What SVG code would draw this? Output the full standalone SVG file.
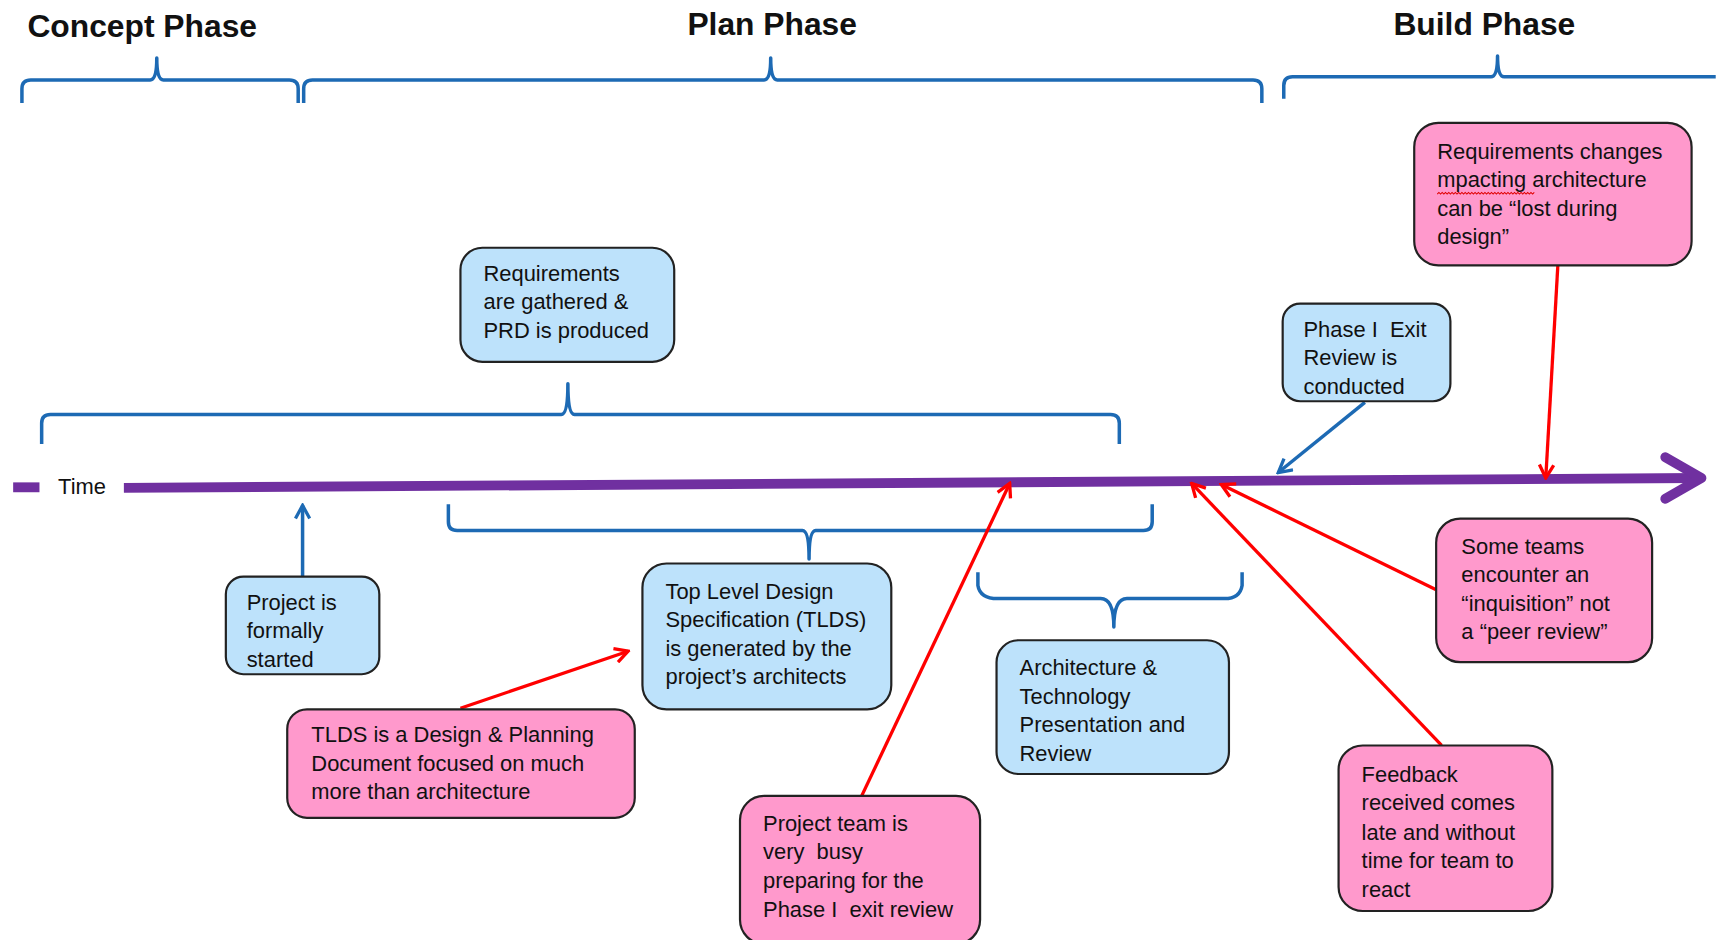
<svg xmlns="http://www.w3.org/2000/svg" width="1719" height="940" viewBox="0 0 1719 940">
<style>
.title{font-family:"Liberation Sans",Arial,sans-serif;font-weight:bold;font-size:29px;fill:#111}
.t{font-family:"Liberation Sans",Arial,sans-serif;font-size:20px;fill:#111;white-space:pre}
.blue{fill:#BDE2FB;stroke:#222;stroke-width:2}
.pink{fill:#FF99CC;stroke:#222;stroke-width:2}
.brace{fill:none;stroke:#1D6AB4;stroke-width:3.2;stroke-linejoin:round}
.bl{fill:none;stroke:#1D6AB4;stroke-width:3.2}
.rd{fill:none;stroke:#FF0000;stroke-width:3}
</style>
<defs>
<marker id="ab" viewBox="0 0 16 16" refX="14" refY="8" markerWidth="16" markerHeight="16" orient="auto" markerUnits="userSpaceOnUse"><path d="M2,1.5 L14,8 L2,14.5" fill="none" stroke="#1D6AB4" stroke-width="3"/></marker>
<marker id="ar" viewBox="0 0 16 16" refX="14" refY="8" markerWidth="16" markerHeight="16" orient="auto" markerUnits="userSpaceOnUse"><path d="M2,1.5 L14,8 L2,14.5" fill="none" stroke="#FF0000" stroke-width="3"/></marker>
</defs>
<rect width="1719" height="940" fill="#fff"/>
<g transform="scale(1.0963)">
<g id="titles">
<text class="title" x="25" y="34">Concept Phase</text>
<text class="title" x="627" y="32">Plan Phase</text>
<text class="title" x="1271" y="32">Build Phase</text>
</g>
<g id="braces">
<path class="brace" d="M20,94 L20,81 Q20,73 28,73 L137,73 Q143,73 143,53 Q143,73 149,73 L264,73 Q272,73 272,81 L272,94"/>
<path class="brace" d="M277,94 L277,81 Q277,73 285,73 L697,73 Q703,73 703,53 Q703,73 709,73 L1143,73 Q1151,73 1151,81 L1151,94"/>
<path class="brace" d="M1171,90 L1171,78 Q1171,70 1179,70 L1360,70 Q1366,70 1366,51 Q1366,70 1372,70 L1565,70"/>
<path class="brace" d="M38,405 L38,386 Q38,378 46,378 L512,378 Q518,378 518,350 Q518,378 524,378 L1013,378 Q1021,378 1021,386 L1021,405"/>
<path class="brace" d="M409,460 L409,476 Q409,484 417,484 L732,484 Q738,484 738,510 Q738,484 744,484 L1043,484 Q1051,484 1051,476 L1051,460"/>
<path class="brace" d="M892,522 L892,534 Q894,546 910,546 L1004,546 Q1016,546 1016,572 Q1016,546 1028,546 L1117,546 Q1131,546 1133,534 L1133,522"/>
</g>
<g id="timeline">
<rect x="12" y="440" width="24" height="9" fill="#7030A0"/>
<text class="t" x="53" y="451">Time</text>
<line x1="113" y1="445" x2="1548" y2="436" stroke="#7030A0" stroke-width="9"/>
<polyline points="1519,417 1552,436 1519,455" fill="none" stroke="#7030A0" stroke-width="9" stroke-linecap="round" stroke-linejoin="round"/>
</g>
<g id="connectors">
<line class="bl" x1="276" y1="526" x2="276" y2="461" marker-end="url(#ab)"/>
<line class="bl" x1="1245" y1="367" x2="1166" y2="431" marker-end="url(#ab)"/>
<line class="rd" x1="1421" y1="242" x2="1410" y2="436" marker-end="url(#ar)"/>
<line class="rd" x1="420" y1="646" x2="573" y2="594" marker-end="url(#ar)"/>
<line class="rd" x1="786" y1="726" x2="921" y2="441" marker-end="url(#ar)"/>
<line class="rd" x1="1315" y1="680" x2="1087" y2="441" marker-end="url(#ar)"/>
<line class="rd" x1="1310" y1="538" x2="1114" y2="442" marker-end="url(#ar)"/>
</g>
<g id="n-req">
<rect class="blue" x="420" y="226" width="195" height="104" rx="20"/>
<text class="t" x="441" y="256">Requirements</text>
<text class="t" x="441" y="282">are gathered &amp;</text>
<text class="t" x="441" y="308">PRD is produced</text>
</g>
<g id="n-exit">
<rect class="blue" x="1170" y="277" width="153" height="89" rx="16"/>
<text class="t" x="1189" y="307" xml:space="preserve">Phase I  Exit</text>
<text class="t" x="1189" y="333">Review is</text>
<text class="t" x="1189" y="359">conducted</text>
</g>
<g id="n-reqchg">
<rect class="pink" x="1290" y="112" width="253" height="130" rx="22"/>
<text class="t" x="1311" y="145">Requirements changes</text>
<text class="t" x="1311" y="171">mpacting architecture</text>
<text class="t" x="1311" y="197">can be “lost during</text>
<text class="t" x="1311" y="223">design”</text>
<path d="M1311,177 l1.5,-1.5 l1.5,1.5 l1.5,-1.5 l1.5,1.5 l1.5,-1.5 l1.5,1.5 l1.5,-1.5 l1.5,1.5 l1.5,-1.5 l1.5,1.5 l1.5,-1.5 l1.5,1.5 l1.5,-1.5 l1.5,1.5 l1.5,-1.5 l1.5,1.5 l1.5,-1.5 l1.5,1.5 l1.5,-1.5 l1.5,1.5 l1.5,-1.5 l1.5,1.5 l1.5,-1.5 l1.5,1.5 l1.5,-1.5 l1.5,1.5 l1.5,-1.5 l1.5,1.5 l1.5,-1.5 l1.5,1.5 l1.5,-1.5 l1.5,1.5 l1.5,-1.5 l1.5,1.5 l1.5,-1.5 l1.5,1.5 l1.5,-1.5 l1.5,1.5 l1.5,-1.5 l1.5,1.5 l1.5,-1.5 l1.5,1.5 l1.5,-1.5 l1.5,1.5 l1.5,-1.5 l1.5,1.5 l1.5,-1.5 l1.5,1.5 l1.5,-1.5 l1.5,1.5 l1.5,-1.5 l1.5,1.5 l1.5,-1.5 l1.5,1.5 l1.5,-1.5 l1.5,1.5 l1.5,-1.5 l1.5,1.5 l1.5,-1.5" fill="none" stroke="#E00000" stroke-width="1"/>
</g>
<g id="n-start">
<rect class="blue" x="206" y="526" width="140" height="89" rx="16"/>
<text class="t" x="225" y="556">Project is</text>
<text class="t" x="225" y="582">formally</text>
<text class="t" x="225" y="608">started</text>
</g>
<g id="n-tlds">
<rect class="blue" x="586" y="514" width="227" height="133" rx="22"/>
<text class="t" x="607" y="546">Top Level Design</text>
<text class="t" x="607" y="572">Specification (TLDS)</text>
<text class="t" x="607" y="598">is generated by the</text>
<text class="t" x="607" y="624">project’s architects</text>
</g>
<g id="n-tldsdoc">
<rect class="pink" x="262" y="647" width="317" height="99" rx="18"/>
<text class="t" x="284" y="677">TLDS is a Design &amp; Planning</text>
<text class="t" x="284" y="703">Document focused on much</text>
<text class="t" x="284" y="729">more than architecture</text>
</g>
<g id="n-busy">
<rect class="pink" x="675" y="726" width="219" height="135" rx="22"/>
<text class="t" x="696" y="758">Project team is</text>
<text class="t" x="696" y="784" xml:space="preserve">very  busy</text>
<text class="t" x="696" y="810">preparing for the</text>
<text class="t" x="696" y="836" xml:space="preserve">Phase I  exit review</text>
</g>
<g id="n-arch">
<rect class="blue" x="909" y="584" width="212" height="122" rx="20"/>
<text class="t" x="930" y="616">Architecture &amp;</text>
<text class="t" x="930" y="642">Technology</text>
<text class="t" x="930" y="668">Presentation and</text>
<text class="t" x="930" y="694">Review</text>
</g>
<g id="n-inq">
<rect class="pink" x="1310" y="473" width="197" height="131" rx="22"/>
<text class="t" x="1333" y="505">Some teams</text>
<text class="t" x="1333" y="531">encounter an</text>
<text class="t" x="1333" y="557">“inquisition” not</text>
<text class="t" x="1333" y="583">a “peer review”</text>
</g>
<g id="n-feedback">
<rect class="pink" x="1221" y="680" width="195" height="151" rx="22"/>
<text class="t" x="1242" y="713">Feedback</text>
<text class="t" x="1242" y="739">received comes</text>
<text class="t" x="1242" y="766">late and without</text>
<text class="t" x="1242" y="792">time for team to</text>
<text class="t" x="1242" y="818">react</text>
</g>
</g>
</svg>
